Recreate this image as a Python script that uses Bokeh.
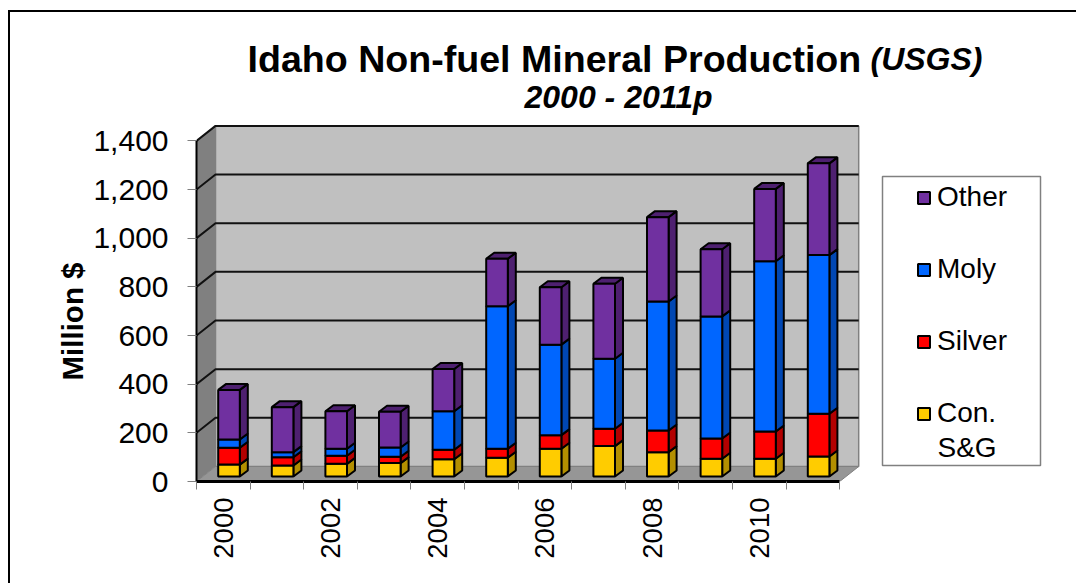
from bokeh.plotting import figure
from bokeh.models import (ColumnDataSource, Range1d, FixedTicker, NumeralTickFormatter, Label,
                          Legend, LegendItem, BoxAnnotation, Title)
from bokeh.embed import file_html
from bokeh.resources import INLINE

years = [2000, 2001, 2002, 2003, 2004, 2005, 2006, 2007, 2008, 2009, 2010, 2011]
con = [49, 45, 52, 55, 71, 77, 114, 125, 100, 73, 73, 82]
silver = [69, 34, 33, 26, 39, 37, 56, 71, 89, 83, 112, 176]
moly = [34, 21, 29, 38, 158, 586, 372, 288, 530, 502, 700, 652]
other = [204, 185, 154, 147, 174, 195, 236, 308, 347, 276, 297, 377]
y_ticks = [0, 200, 400, 600, 800, 1000, 1200, 1400]
series = [("Con.", con, "#FFCC00", "#B38F00"),
          ("Silver", silver, "#FF0000", "#B30000"),
          ("Moly", moly, "#0066FF", "#0047B3"),
          ("Other", other, "#7030A0", "#4E2070")]

FONT = "Liberation Sans"
CAT_PX, VAL_PX = 53.6, 0.2433          # pixels per category / per value unit
LEFT, BOTTOM = 196, 481                # page position of the origin


def X(px):
    return (px - LEFT) / CAT_PX


def Y(py):
    return (BOTTOM - py) / VAL_PX


W_DX, W_DY = 19 / CAT_PX, 15 / VAL_PX  # depth of the box
B_DX, B_DY = 8 / CAT_PX, 6 / VAL_PX    # depth of a bar
B_X0, B_W = 21.7 / CAT_PX, 21.6 / CAT_PX
B_Y0 = 5 / VAL_PX
N = len(years)
TOP = max(y_ticks)

p = figure(frame_width=1076 - LEFT, frame_height=BOTTOM, min_border_left=LEFT, min_border_right=0,
           min_border_top=0, min_border_bottom=583 - BOTTOM,
           x_range=Range1d(0, (1076 - LEFT) / CAT_PX), y_range=Range1d(0, BOTTOM / VAL_PX),
           output_backend="svg", toolbar_location=None, outline_line_color=None,
           background_fill_color="white", border_fill_color="white")
p.grid.visible = False
p.stylesheets = [":host::before { content: ''; position: absolute; left: 8px; top: 10px; "
                 "width: calc(100% - 8px); height: calc(100% - 10px); box-sizing: border-box; "
                 "border-left: 2px solid black; border-top: 2px solid black; "
                 "z-index: 10; pointer-events: none; }"]

# walls and floor
p.patch([0, W_DX, W_DX, 0], [0, W_DY, TOP + W_DY, TOP], fill_color="#808080", line_color=None)
p.patch([W_DX, N + W_DX, N + W_DX, W_DX], [W_DY, W_DY, TOP + W_DY, TOP + W_DY],
        fill_color="#C0C0C0", line_color="#808080", line_width=1.5)
p.patch([0, N, N + W_DX, W_DX], [0, 0, W_DY, W_DY], fill_color="#969696",
        line_color="#808080", line_width=1)

# gridlines: diagonal on the side wall, then along the back wall
grid = [v for v in y_ticks if v > 0]
p.multi_line([[0, W_DX, N + W_DX] for v in grid], [[v, v + W_DY, v + W_DY] for v in grid],
             line_color="#111111", line_width=2)

# bars
base = [0] * N
legend_renderers = {}
for name, vals, front, side in series:
    top = [b + v for b, v in zip(base, vals)]
    x0 = [i + B_X0 for i in range(N)]
    x1 = [i + B_X0 + B_W for i in range(N)]
    p.patches([[a, a + B_DX, a + B_DX, a] for a in x1],
              [[b + B_Y0, b + B_Y0 + B_DY, t + B_Y0 + B_DY, t + B_Y0] for b, t in zip(base, top)],
              fill_color=side, line_color="black", line_width=2)
    if name == "Other":
        p.patches([[a, c, c + B_DX, a + B_DX] for a, c in zip(x0, x1)],
                  [[t + B_Y0, t + B_Y0, t + B_Y0 + B_DY, t + B_Y0 + B_DY] for t in top],
                  fill_color=side, line_color="black", line_width=2)
    src = ColumnDataSource(dict(left=x0, right=x1,
                                bottom=[b + B_Y0 for b in base], top=[t + B_Y0 for t in top]))
    legend_renderers[name] = p.quad(left="left", right="right", bottom="bottom", top="top", source=src,
                                    fill_color=front, line_color="black", line_width=2)
    base = top

# axes
xa = p.xaxis[0]
xa.bounds = (0, N)
xa.ticker = FixedTicker(ticks=[i + 0.5 for i in range(0, N, 2)], minor_ticks=list(range(N + 1)))
xa.major_label_overrides = {i + 0.5: str(years[i]) for i in range(0, N, 2)}
xa.major_tick_out = 0
xa.major_tick_in = 0
xa.minor_tick_out = 8
xa.minor_tick_in = 0
xa.minor_tick_line_color = "#808080"
xa.axis_line_color = "black"
xa.axis_line_width = 3
xa.major_label_orientation = 1.5708
xa.major_label_standoff = 8
xa.major_label_text_font = FONT
xa.major_label_text_font_size = "27.5px"
xa.major_label_text_color = "black"

ya = p.yaxis[0]
ya.bounds = (0, TOP)
ya.ticker = FixedTicker(ticks=y_ticks)
ya.formatter = NumeralTickFormatter(format="0,0")
ya.major_tick_out = 9
ya.major_tick_in = 0
ya.minor_tick_out = 0
ya.minor_tick_in = 0
ya.major_tick_line_color = "#808080"
ya.axis_line_color = "black"
ya.axis_line_width = 2
ya.major_label_standoff = 19
ya.major_label_text_font = FONT
ya.major_label_text_font_size = "30px"
ya.major_label_text_color = "black"

# value-axis title, placed along the frame with an offset from its lower end
p.add_layout(Title(text="Million $", align="left", offset=BOTTOM - 380, standoff=4, text_font=FONT,
                   text_font_size="29.5px", text_font_style="bold", text_color="black"), "left")


def label(text, x, y, size, style, **kw):
    p.add_layout(Label(text=text, x=X(x), y=Y(y), text_font=FONT, text_font_size=size, text_font_style=style,
                       text_color="black", text_baseline="alphabetic", **kw))


label("Idaho Non-fuel Mineral Production", 247, 58, "37.6px", "bold")
label("(USGS)", 870, 58, "32px", "bold italic")
label("2000 - 2011p", 524, 96, "32px", "bold italic")

# legend box, legend, and the wrapped second line of the last entry
p.add_layout(BoxAnnotation(left=X(882), right=X(1040), top=Y(176), bottom=Y(465), fill_color="white", fill_alpha=1,
                           line_color="#808080", line_alpha=1, line_width=1.5))
items = [LegendItem(label=name, renderers=[legend_renderers[name]]) for name, *_ in reversed(series)]
leg = Legend(items=items, location=(916 - LEFT, 52), orientation="vertical", glyph_width=15, glyph_height=15,
             label_text_font=FONT, label_text_font_size="28px", label_text_color="black",
             border_line_color=None, background_fill_alpha=0,
             padding=7, spacing=40, margin=0, label_standoff=6)
p.add_layout(leg)
label("S&G", 937, 447, "28px", "normal")

open("out.html", "w").write(file_html(p, INLINE))
